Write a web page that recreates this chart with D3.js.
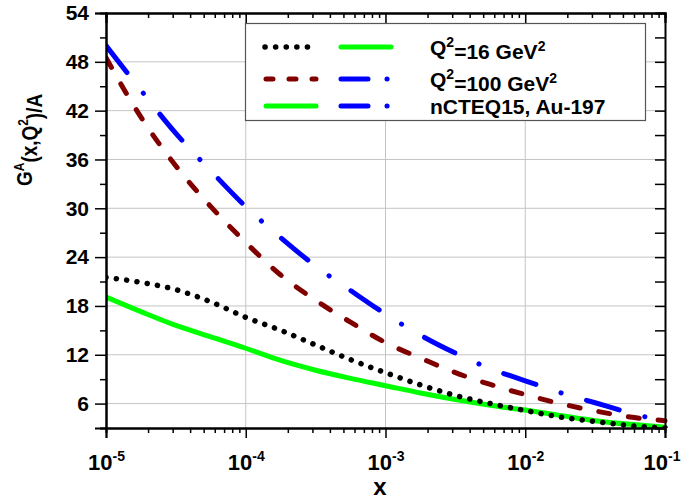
<!DOCTYPE html>
<html>
<head>
<meta charset="utf-8">
<script src="https://cdn.jsdelivr.net/npm/d3@7"></script>
<style>
body { margin: 0; background: #fff; }
svg { font-family: "Liberation Sans", Arial, sans-serif; font-weight: bold; }
</style>
</head>
<body>
<svg id="fig" width="682" height="499"></svg>
<script>
// x sampling (decades) and curves
const logX = [-5, -4.75, -4.5, -4.25, -4, -3.75, -3.5, -3.25, -3, -2.75, -2.5, -2.25, -2, -1.75, -1.5, -1.25, -1];
const q16 = [21.5, 20.9, 20.0, 18.5, 16.6, 15.0, 13.2, 11.4, 9.8, 8.3, 7.0, 6.0, 5.15, 4.35, 3.8, 3.3, 3.0];
const nc16 = [19.1, 17.3, 15.6, 14.2, 12.8, 11.3, 10.1, 9.1, 8.2, 7.3, 6.5, 5.8, 5.2, 4.55, 3.9, 3.45, 3.1];
const q100 = [48.5, 41.2, 35.2, 30.2, 25.8, 21.8, 18.7, 16.0, 13.5, 11.6, 9.8, 8.35, 7.1, 6.0, 5.1, 4.35, 3.9];
const nc100 = [50.0, 44.5, 39.2, 34.6, 30.2, 26.4, 22.9, 19.9, 17.0, 14.4, 12.2, 10.3, 8.8, 7.35, 6.1, 4.85, 3.8];

const yMajor = [6, 12, 18, 24, 30, 36, 42, 48, 54];
const yMinor = [3, 9, 15, 21, 27, 33, 39, 45, 51];
const xMajor = [1e-5, 1e-4, 1e-3, 1e-2, 1e-1];

const legendRows = [
  ["Q", "2", "=16 GeV", "2"],
  ["Q", "2", "=100 GeV", "2"],
  ["nCTEQ15, Au-197"]
];

const L = 106, R = 665, T = 13, B = 428;
const svg = d3.select("#fig");

const x = d3.scaleLog().domain([1e-5, 1e-1]).range([L, R]);
const y = d3.scaleLinear().domain([3, 54]).range([B, T]);

const xMinor = [];
for (let e = -5; e < -1; e++) for (let m = 2; m <= 9; m++) xMinor.push(m * Math.pow(10, e));

// grid
svg.append("g").selectAll("line").data(yMajor.slice(0, -1)).join("line")
  .attr("x1", L).attr("x2", R).attr("y1", d => y(d)).attr("y2", d => y(d))
  .attr("stroke", "#c4c4c4").attr("stroke-width", 1);
svg.append("g").selectAll("line").data(xMajor.slice(1, -1)).join("line")
  .attr("y1", T).attr("y2", B).attr("x1", d => x(d)).attr("x2", d => x(d))
  .attr("stroke", "#c4c4c4").attr("stroke-width", 1);

// curves
svg.append("clipPath").attr("id", "clip").append("rect")
  .attr("x", L).attr("y", T - 5).attr("width", R - L + 4).attr("height", B - T + 5);

const line = d3.line()
  .x((d, i) => x(Math.pow(10, logX[i])))
  .y(d => y(d))
  .curve(d3.curveMonotoneX);

const series = [
  { data: nc16, color: "#00ff00", dash: null, w: 5 },
  { data: q16, color: "#000000", dash: "0.1,10.3", w: 5.5 },
  { data: q100, color: "#800000", dash: "11,19", w: 5 },
  { data: nc100, color: "#0000ff", dash: "34,26.5,0.1,26.5", w: 5 }
];

const gc = svg.append("g").attr("clip-path", "url(#clip)");
series.forEach(s => {
  gc.append("path").attr("d", line(s.data))
    .attr("fill", "none").attr("stroke", s.color).attr("stroke-width", s.w)
    .attr("stroke-linecap", "round").attr("stroke-dasharray", s.dash);
});

// axes
const left = svg.append("g").attr("transform", `translate(${L},0)`)
  .call(d3.axisLeft(y).tickValues(yMajor).tickSize(11).tickPadding(6));
svg.append("g").attr("transform", `translate(${L},0)`)
  .call(d3.axisLeft(y).tickValues(yMinor).tickSize(6).tickFormat(""));
left.selectAll("text").style("font-size", "21px").attr("fill", "#000");

svg.append("g").attr("transform", `translate(${R},0)`)
  .call(d3.axisLeft(y).tickValues(yMajor.concat(yMinor)).tickSize(10).tickFormat(""));

const bottom = svg.append("g").attr("transform", `translate(0,${B})`)
  .call(d3.axisBottom(x).tickValues(xMajor).tickSize(10).tickPadding(16));
svg.append("g").attr("transform", `translate(0,${B})`)
  .call(d3.axisBottom(x).tickValues(xMinor).tickSize(5).tickFormat(""));
bottom.selectAll(".tick text").each(function(d) {
  const t = d3.select(this).text(null).style("font-size", "22px").attr("fill", "#000");
  t.append("tspan").text("10");
  t.append("tspan").attr("dy", "-0.6em").style("font-size", "14px").text(Math.round(Math.log10(d)));
  // keep the last label inside the picture
  if (d === 1e-1) t.attr("text-anchor", "end").attr("x", 680 - R);
});

svg.append("g").attr("transform", `translate(0,${T})`)
  .call(d3.axisTop(x).tickValues(xMajor).tickSize(-10).tickFormat(""));
svg.append("g").attr("transform", `translate(0,${T})`)
  .call(d3.axisTop(x).tickValues(xMinor).tickSize(-5).tickFormat(""));

svg.selectAll(".domain").attr("stroke", "#000").attr("stroke-width", 2);
svg.selectAll(".tick line").attr("stroke", "#000").attr("stroke-width", 1.5);

// axis titles
svg.append("text").attr("x", 380).attr("y", 495).attr("text-anchor", "middle")
  .style("font-size", "24px").text("x");

const yt = svg.append("text").attr("transform", "translate(32,140) rotate(-90) scale(0.86,1)")
  .attr("text-anchor", "middle").style("font-size", "22px");
yt.append("tspan").text("G");
yt.append("tspan").attr("dy", "-0.6em").style("font-size", "14px").text("A");
yt.append("tspan").attr("dy", "0.6em").text("(x,Q");
yt.append("tspan").attr("dy", "-0.6em").style("font-size", "14px").text("2");
yt.append("tspan").attr("dy", "0.6em").text(")/A");

// legend
const lg = svg.append("g");
lg.append("rect").attr("x", 245.5).attr("y", 23.5).attr("width", 400).attr("height", 97)
  .attr("fill", "#fff").attr("stroke", "#555").attr("stroke-width", 1.2);

const rowY = [47, 79, 106];
const samples = [
  [{ c: "#000000", dash: "0.1,10.5", x1: 265, x2: 308, w: 5.5 }, { c: "#00ff00", dash: null, x1: 341, x2: 391, w: 5 }],
  [{ c: "#800000", dash: "7,16", x1: 266, x2: 316, w: 5 }, { c: "#0000ff", dash: "27,19,0.1,30", x1: 341, x2: 387.1, w: 5 }],
  [{ c: "#00ff00", dash: null, x1: 266, x2: 316, w: 5 }, { c: "#0000ff", dash: "27,19,0.1,30", x1: 341, x2: 387.1, w: 5 }]
];
samples.forEach((row, i) => {
  row.forEach(s => {
    lg.append("line").attr("x1", s.x1).attr("x2", s.x2).attr("y1", rowY[i]).attr("y2", rowY[i])
      .attr("stroke", s.c).attr("stroke-width", s.w).attr("stroke-linecap", "round")
      .attr("stroke-dasharray", s.dash);
  });
  const t = lg.append("text").attr("x", 430).attr("y", rowY[i] + 8).style("font-size", "21px");
  legendRows[i].forEach((part, k) => {
    if (k % 2 === 1) t.append("tspan").attr("dy", "-0.55em").style("font-size", "14px").text(part);
    else t.append("tspan").attr("dy", k === 0 ? null : "0.55em").text(part);
  });
});
</script>
</body>
</html>
